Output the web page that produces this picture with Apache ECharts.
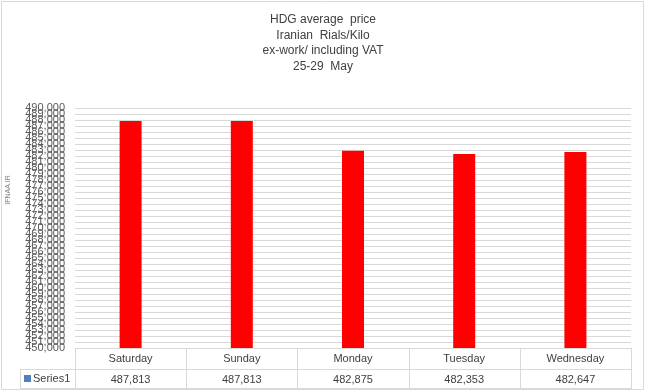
<!DOCTYPE html>
<html><head><meta charset="utf-8">
<script src="https://cdn.jsdelivr.net/npm/echarts@6/dist/echarts.min.js"></script>
<style>html,body{margin:0;padding:0;background:#fff}#c{width:646px;height:392px}</style>
</head><body><div id="c"></div>
<script>
const categories = ['Saturday','Sunday','Monday','Tuesday','Wednesday'];
const values = [487813, 487813, 482875, 482353, 482647];
const seriesName = 'Series1';
const titleLines = ['HDG average  price','Iranian  Rials/Kilo','ex-work/ including VAT','25-29  May'];
const yMin = 450000, yMax = 490000, yStep = 1000;

const fmt = v => v.toLocaleString('en-US');
const F = '"Liberation Sans", Arial, sans-serif';
const gl = 75, gr = 631, gt = 108, gb = 348;
const chart = echarts.init(document.getElementById('c'));
const colW = (gr - gl) / categories.length;
const lineStyle = {stroke:'#d9d9d9', lineWidth:1};
const graphics = [
  {type:'rect', shape:{x:1.5,y:1.5,width:642,height:388}, style:{fill:null, stroke:'#d9d9d9', lineWidth:1}, silent:true},
  {type:'line', shape:{x1:20,y1:369.5,x2:gr,y2:369.5}, style:lineStyle},
  {type:'line', shape:{x1:20,y1:388.5,x2:gr,y2:388.5}, style:lineStyle},
  {type:'line', shape:{x1:20.5,y1:369,x2:20.5,y2:389}, style:lineStyle},
  {type:'rect', shape:{x:24,y:375,width:7,height:7}, style:{fill:'#4f81bd'}},
  {type:'text', x:33, y:379, style:{text:seriesName, font:'11px '+F, fill:'#404040', verticalAlign:'middle'}},
  {type:'text', x:8, y:190, rotation:Math.PI/2, style:{text:'IFNAA.IR', font:'7px '+F, fill:'#7f7f7f', align:'center', verticalAlign:'middle'}}
];
for (let i = 0; i <= categories.length; i++) {
  const x = Math.round(gl + i*colW) + 0.5;
  graphics.push({type:'line', shape:{x1:x,y1:gb,x2:x,y2:389}, style:lineStyle});
}
titleLines.forEach((t,i)=>{
  graphics.push({type:'text', x:323, y:20+i*15.5, style:{text:t, font:'12px '+F, fill:'#404040', align:'center', verticalAlign:'middle'}});
});

const yLabel = {fontSize:11, fontFamily:F, color:'#595959', margin:10, hideOverlap:false};
chart.setOption({
  animation:false,
  grid:{left:gl, right:646-gr, top:gt, bottom:392-gb},
  xAxis:{type:'category', data:categories,
    axisLine:{show:false}, axisTick:{show:false},
    axisLabel:{margin:1, lineHeight:20.5, fontSize:11, fontFamily:F, color:'#404040',
      formatter:(v,i)=> v + '\n' + fmt(values[i])}},
  yAxis:[
    {type:'value', min:yMin, max:yMax, interval:yStep,
      axisLine:{show:false}, axisTick:{show:false},
      axisLabel:Object.assign({formatter:v=>fmt(v)}, yLabel),
      splitLine:{lineStyle:{color:'#d9d9d9', width:1}}},
    {type:'value', position:'left', min:yMin, max:yMax, interval:yStep,
      axisLine:{show:false}, axisTick:{show:false}, splitLine:{show:false},
      axisLabel:Object.assign({showMinLabel:true, showMaxLabel:true,
        formatter:v=>(v===yMin||v===yMax)?fmt(v):''}, yLabel)}
  ],
  series:[{type:'bar', name:seriesName, data:values, barWidth:22, itemStyle:{color:'#ff0000'}}],
  graphic:graphics
});
</script></body></html>
